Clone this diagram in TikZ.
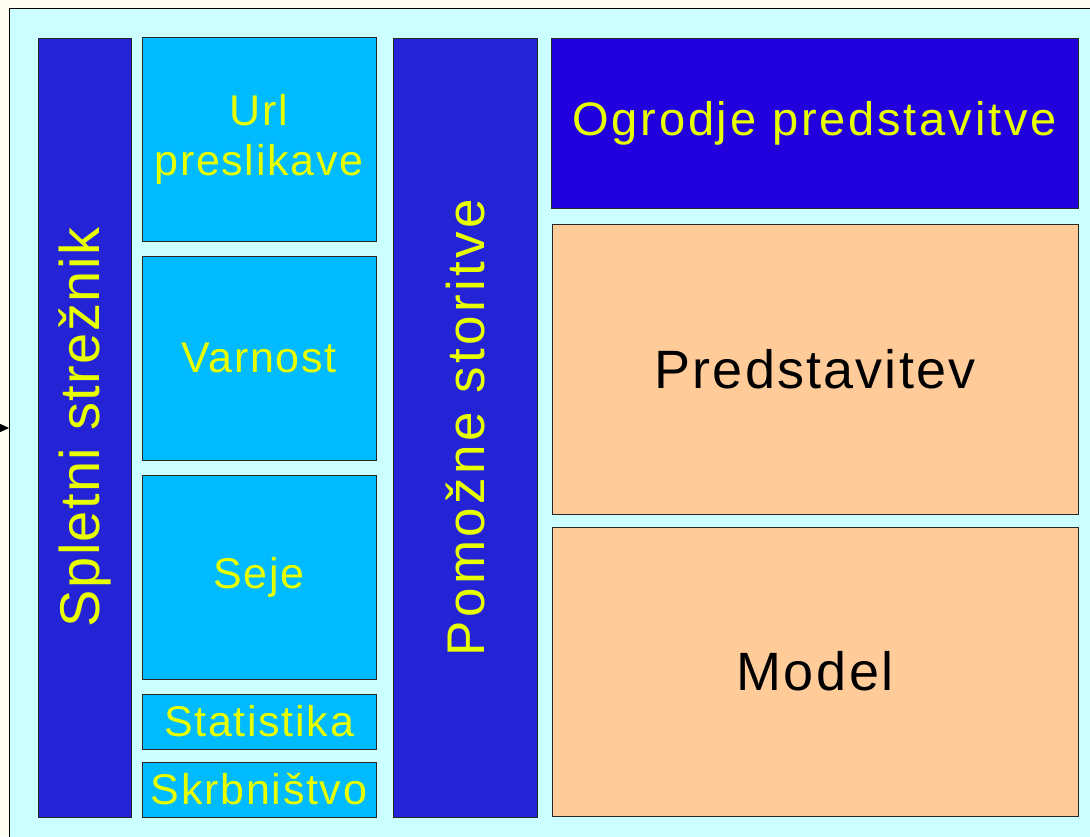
\documentclass[tikz,border=0pt]{standalone}
\usepackage{fontspec}
\setmainfont{Liberation Sans}
\usetikzlibrary{shadows,arrows.meta}

\definecolor{papir}{RGB}{253,252,240}
\definecolor{ozadje}{RGB}{204,255,255}
\definecolor{temnomodra}{RGB}{36,36,214}
\definecolor{vijolicna}{RGB}{34,0,221}
\definecolor{svetlomodra}{RGB}{0,187,255}
\definecolor{breskev}{RGB}{255,204,153}
\definecolor{rumena}{RGB}{232,255,0}

\newcommand\velikfont{\fontsize{54}{60}\selectfont\addfontfeature{LetterSpace=5}}
\newcommand\srednjifont{\fontsize{47}{54}\selectfont\addfontfeature{LetterSpace=6}}
\newcommand\malifont{\fontsize{43}{50}\selectfont\addfontfeature{LetterSpace=4}}

\begin{document}
\begin{tikzpicture}[x=1pt,y=-1pt,
  blok/.style={draw=black!85,line width=1pt,inner sep=0pt,align=center,
    drop shadow={shadow xshift=1.3pt,shadow yshift=-1.3pt,fill=black!60,opacity=0.8}},
  stolpec/.style={blok,fill=temnomodra,text=rumena,font=\velikfont,rotate=90},
  storitev/.style={blok,fill=svetlomodra,text=rumena,font=\malifont,minimum width=234},
  sloj/.style={blok,fill=breskev,text=black,font=\velikfont,minimum width=526,minimum height=290}]
\useasboundingbox (0,0) rectangle (1090,836);
\clip (0,0) rectangle (1090,836);
\fill[papir] (0,0) rectangle (1090,836);
\node[draw=black,line width=1pt,fill=ozadje,anchor=north west,minimum width=1100,minimum height=840] (okvir) at (9,8) {};

\node[stolpec,minimum width=779,minimum height=93,font=\fontsize{56}{60}\selectfont\addfontfeature{LetterSpace=2.5}] (streznik) at (84.5,427.5) {Spletni strežnik};

\node[storitev,minimum height=204] (url) at (259,139) {Url\\preslikave};
\node[storitev,minimum height=204] (varnost) at (259,358) {Varnost};
\node[storitev,minimum height=204] (seje) at (259,577) {Seje};
\node[storitev,minimum height=55] (statistika) at (259,721.5) {Statistika};
\node[storitev,minimum height=55] (skrbnistvo) at (259,789.5) {Skrbništvo};

\node[stolpec,minimum width=779,minimum height=144,font=\fontsize{53}{60}\selectfont\addfontfeature{LetterSpace=6.5}] (pomozne) at (465,427.5) {Pomožne storitve};

\node[blok,fill=vijolicna,text=rumena,font=\srednjifont,minimum width=527,minimum height=170] (ogrodje) at (814.5,123) {Ogrodje predstavitve};
\node[sloj,font=\fontsize{54}{60}\selectfont\addfontfeature{LetterSpace=4}] (predstavitev) at (815,369) {Predstavitev};
\node[sloj,minimum height=289] (model) at (815,671.5) {Model};

\coordinate (vhod) at (0,428);
\draw[line width=1pt,-{Triangle[length=11pt,width=10pt]}] (vhod) -- (vhod -| okvir.west);
\end{tikzpicture}
\end{document}
